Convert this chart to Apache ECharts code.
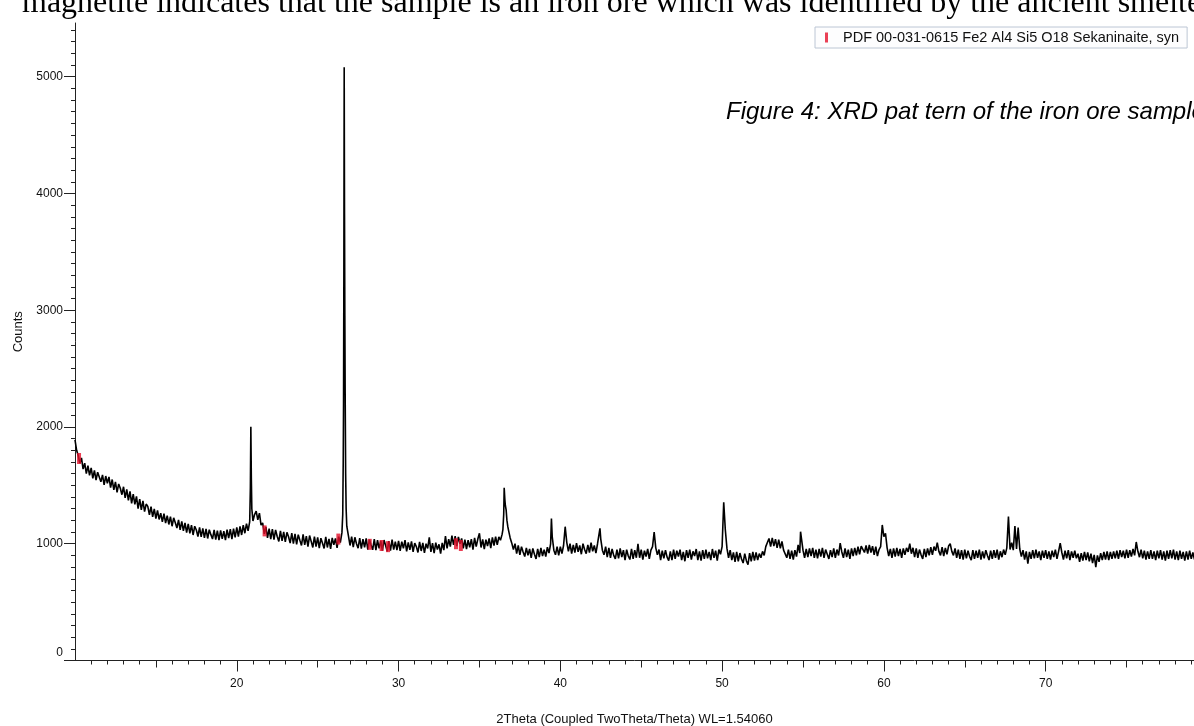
<!DOCTYPE html>
<html><head><meta charset="utf-8">
<script src="https://cdn.jsdelivr.net/npm/echarts@6/dist/echarts.min.js"></script>
<style>html,body{margin:0;padding:0;background:#fff}#c{width:1194px;height:726px}</style>
</head><body><div id="c"></div>
<script>
// 2Theta sampling step of the scan arrays (each segment starts at its decade)
const twoThetaStep = 0.1;
// counts, 10.0 .. 19.9
const seg10 = [1890,1800,1755,1690,1735,1640,1690,1600,1668,1585,
1650,1560,1628,1545,1612,1598,1530,1590,1505,1580,
1518,1572,1480,1550,1462,1530,1440,1512,1475,1420,
1488,1392,1465,1372,1448,1345,1425,1338,1405,1300,
1382,1290,1368,1275,1340,1320,1248,1318,1230,1298,
1215,1285,1208,1262,1188,1258,1176,1240,1165,1232,
1150,1222,1180,1135,1205,1118,1192,1110,1178,1095,
1170,1088,1160,1075,1150,1118,1062,1140,1058,1132,
1050,1128,1045,1120,1078,1040,1118,1035,1112,1030,
1115,1042,1108,1032,1120,1048,1125,1040,1130,1055];
// counts, 20.0 .. 29.9
const seg20 = [1140,1060,1148,1075,1160,1090,1172,1110,1190,1560,
1195,1250,1280,1205,1262,1160,1178,1085,1145,1050,
1130,1040,1125,1035,1118,1062,1020,1110,1025,1102,
1015,1098,1060,1005,1090,1000,1085,995,1078,1030,
985,1080,990,1065,975,1070,1020,968,1060,975,
1055,962,1048,1005,960,1058,968,1042,955,1050,
990,1045,965,1060,1010,1095,2200,2300,1150,1070,
985,1060,970,1055,1000,962,1048,958,1040,970,
1045,950,1035,990,948,1040,945,1030,960,1025,
940,1032,985,935,1022,942,1035,950,1018,945];
// counts, 30.0 .. 39.9
const seg30 = [1025,940,1018,960,1030,935,1012,948,1020,930,
1005,975,925,1015,938,1008,922,1000,960,1055,
930,1005,920,1010,950,995,915,1008,945,1065,
960,1040,975,1070,990,1065,980,1058,1000,1045,
960,1035,955,1030,970,1040,950,1050,975,1040,
1090,968,1038,955,1035,980,1045,962,1055,985,
1060,990,1058,1030,1080,1250,1330,1200,1115,1050,
1005,950,1000,915,985,905,975,930,890,965,
900,955,880,960,910,870,955,885,965,895,
950,890,970,920,1000,1060,945,905,975,900];
// counts, 40.0 .. 49.9
const seg40 = [975,915,985,1146,1010,935,1000,915,990,925,
1005,930,985,910,1000,950,915,990,925,1010,
935,985,920,1000,1015,1040,945,905,975,885,
965,880,955,900,870,950,875,960,885,945,
860,950,895,865,955,870,945,880,1000,880,
950,865,940,890,955,870,945,975,1100,965,
905,950,860,940,875,945,885,855,935,860,
950,870,940,890,950,860,930,850,945,880,
950,865,935,895,955,860,935,855,945,870,
950,875,930,860,955,880,940,855,950,910];
// counts, 50.0 .. 59.9
const seg50 = [975,1356,1118,960,880,945,860,925,845,930,
850,920,870,835,915,855,820,920,850,930,
855,925,860,915,880,935,900,975,1010,1045,
975,1050,980,1040,965,1035,960,1020,945,955,
880,950,870,940,865,945,890,990,920,1050,
945,880,955,885,960,895,965,880,950,875,
955,890,965,880,950,910,870,945,885,960,
880,950,900,1005,930,880,960,885,950,870,
960,895,965,900,975,910,980,990,925,985,
915,990,925,980,905,975,895,950,975,1161];
// counts, 60.0 .. 69.9
const seg60 = [1060,1090,965,895,955,880,960,890,965,895,
955,880,960,905,965,930,1000,915,965,885,
960,880,950,905,870,955,885,960,900,970,
905,975,940,1010,935,900,970,895,965,910,
980,1000,935,900,960,880,950,870,945,865,
950,875,940,890,860,945,870,940,880,950,
865,935,875,945,900,860,940,870,945,880,
950,865,935,885,950,905,965,1232,950,1010,
945,1152,955,1138,955,890,945,865,935,830,
930,870,945,875,950,880,935,860,940,880];
// counts, 70.0 .. 79.2
const seg70 = [945,870,935,865,940,885,950,870,935,1005,
925,865,940,875,945,860,935,880,940,875,
915,845,920,855,930,860,925,850,915,835,
905,800,900,845,920,860,930,865,935,860,
930,870,935,875,940,870,945,885,940,875,
950,880,945,890,955,900,1015,935,885,950,
875,940,865,935,870,945,870,935,860,940,
875,945,865,935,855,940,870,945,875,950,
865,935,860,940,870,930,855,935,865,940,
870,925,865];
const segmentStarts = [10, 20, 30, 40, 50, 60, 70];
// extra points read at peak tops [2Theta, counts]
const peakPoints = [[20.84,1480],[20.87,2003],[20.93,1300],
[26.55,1250],[26.58,1700],[26.62,3350],[26.64,5080],[26.66,3820],[26.68,2950],[26.73,1600],[26.76,1300],
[36.45,1120],[36.53,1480],[36.57,1380],[36.65,1290],[36.75,1150],
[39.45,1216],[42.45,1132],[54.85,1103]];
// Sekaninaite reference sticks
const refTheta = [10.25, 21.72, 26.28, 28.22, 28.95, 29.35, 33.55, 33.85];
const refCounts = [1730, 1110, 1040, 995, 985, 975, 1000, 985];
const refName = 'PDF 00-031-0615 Fe2 Al4 Si5 O18 Sekaninaite, syn';
// tick labels
const yTickLabels = [0, 1000, 2000, 3000, 4000, 5000];
const xTickLabels = [20, 30, 40, 50, 60, 70];

const segs = [seg10, seg20, seg30, seg40, seg50, seg60, seg70];
let scan = [];
segs.forEach((s, k) => s.forEach((v, i) => {
  scan.push([Math.round((segmentStarts[k] + i * twoThetaStep) * 100) / 100, v]);
}));
scan = scan.concat(peakPoints).sort((a, b) => a[0] - b[0]);
const refData = refTheta.map((t, i) => [t, refCounts[i]]);

const X_MIN = 10, X_MAX = 79.17, Y_MIN = 0, Y_MAX = 5460;
const minorX = [], midX = [], minorY = [];
for (let v = 11; v <= 79; v++) { if (v % 5 !== 0) minorX.push(v); else if (v % 10 !== 0) midX.push(v); }
for (let v = 100; v <= 5400; v += 100) { if (v % 1000 !== 0) minorY.push(v); }

const font = '"Liberation Sans", Arial, sans-serif';
const lineStyle = { color: '#222', width: 1 };
const chart = echarts.init(document.getElementById('c'), null, { renderer: 'canvas' });
chart.setOption({
  animation: false,
  backgroundColor: '#fff',
  grid: { left: 75, right: 0, top: 23, bottom: 65.5, containLabel: false, outerBoundsMode: 'none' },
  legend: {
    show: true, data: [{ name: refName, icon: 'rect' }],
    left: 815, top: 27, orient: 'horizontal',
    padding: [3, 8, 3, 10], itemWidth: 3, itemHeight: 10,
    borderColor: '#bcc6d4', borderWidth: 1, backgroundColor: '#fdfdfe',
    textStyle: { fontFamily: font, fontSize: 14.5, color: '#111', padding: [0, 0, 0, 10] },
    selectedMode: false
  },
  graphic: [
    { type: 'text', x: 22, y: 3.5, silent: true,
      style: { text: 'magnetite indicates that the sample is an iron ore which was identified by the ancient smelters',
        font: '32px "Liberation Serif", "Times New Roman", serif', fill: '#000', verticalAlign: 'middle', textAlign: 'left' } },
    { type: 'text', x: 726, y: 112, silent: true,
      style: { text: 'Figure 4: XRD pat tern of the iron ore sample',
        font: 'italic 24px "Liberation Sans", Arial, sans-serif', fill: '#000', verticalAlign: 'middle', textAlign: 'left' } }
  ],
  xAxis: [
    { type: 'value', position: 'bottom', min: X_MIN, max: X_MAX,
      axisLine: { show: true, lineStyle }, splitLine: { show: false },
      axisTick: { show: true, inside: false, length: 4, customValues: minorX, lineStyle },
      axisLabel: { show: false } },
    { type: 'value', position: 'bottom', min: X_MIN, max: X_MAX,
      axisLine: { show: false }, splitLine: { show: false },
      axisTick: { show: true, inside: false, length: 7, customValues: midX, lineStyle },
      axisLabel: { show: false } },
    { type: 'value', position: 'bottom', min: X_MIN, max: X_MAX,
      axisLine: { show: false }, splitLine: { show: false },
      axisTick: { show: true, inside: false, length: 11, customValues: xTickLabels, lineStyle },
      axisLabel: { show: true, customValues: xTickLabels, margin: 17, color: '#111', fontSize: 12, fontFamily: font },
      name: '2Theta (Coupled TwoTheta/Theta) WL=1.54060', nameLocation: 'middle', nameGap: 52,
      nameTextStyle: { color: '#111', fontSize: 13, fontFamily: font } }
  ],
  yAxis: [
    { type: 'value', position: 'left', min: Y_MIN, max: Y_MAX,
      axisLine: { show: true, lineStyle }, splitLine: { show: false },
      axisTick: { show: true, inside: false, length: 11, customValues: yTickLabels, lineStyle },
      axisLabel: { show: true, customValues: yTickLabels, margin: 12, color: '#111', fontSize: 12, fontFamily: font,
        formatter: v => (v === 0 ? '{z|0}' : String(v)),
        rich: { z: { padding: [0, 0, 15, 0], fontSize: 12, fontFamily: font, color: '#111' } } },
      name: 'Counts', nameLocation: 'middle', nameGap: 50, nameRotate: 90,
      nameTextStyle: { color: '#111', fontSize: 13, fontFamily: font, padding: [0, 0, 0, 20] } },
    { type: 'value', position: 'left', min: Y_MIN, max: Y_MAX,
      axisLine: { show: false }, splitLine: { show: false },
      axisTick: { show: true, inside: false, length: 4, customValues: minorY, lineStyle },
      axisLabel: { show: false } }
  ],
  series: [
    { type: 'line', name: 'scan', data: scan, xAxisIndex: 0, yAxisIndex: 0,
      showSymbol: false, symbol: 'none', lineStyle: { color: '#000', width: 1.6 }, z: 2, silent: true },
    { type: 'scatter', name: refName, data: refData, xAxisIndex: 0, yAxisIndex: 0,
      symbol: 'rect', symbolSize: [4, 11], itemStyle: { color: '#e5102b' }, z: 3, silent: true }
  ]
});
</script></body></html>
